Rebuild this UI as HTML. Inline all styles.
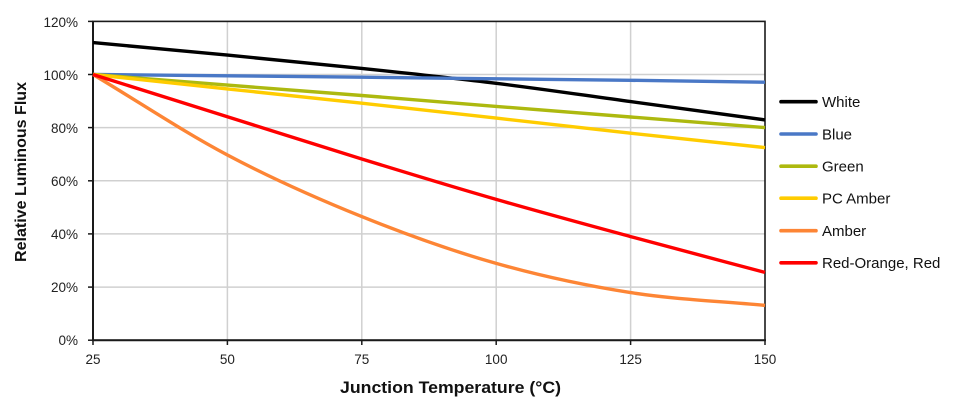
<!DOCTYPE html>
<html>
<head>
<meta charset="utf-8">
<style>
  html, body { margin: 0; padding: 0; background: #ffffff; }
  body { width: 960px; height: 410px; overflow: hidden; }
  svg { display: block; font-family: "Liberation Sans", Arial, sans-serif; }
</style>
</head>
<body>
<svg width="960" height="410" viewBox="0 0 960 410" xmlns="http://www.w3.org/2000/svg">
  <rect x="0" y="0" width="960" height="410" fill="#ffffff"/>

  <!-- gridlines -->
  <g stroke="#d0d0d0" stroke-width="1.5" fill="none">
    <line x1="93" y1="74.5" x2="765" y2="74.5"/>
    <line x1="93" y1="127.6" x2="765" y2="127.6"/>
    <line x1="93" y1="180.8" x2="765" y2="180.8"/>
    <line x1="93" y1="233.9" x2="765" y2="233.9"/>
    <line x1="93" y1="287.1" x2="765" y2="287.1"/>
    <line x1="227.4" y1="21.4" x2="227.4" y2="340.2"/>
    <line x1="361.8" y1="21.4" x2="361.8" y2="340.2"/>
    <line x1="496.2" y1="21.4" x2="496.2" y2="340.2"/>
    <line x1="630.6" y1="21.4" x2="630.6" y2="340.2"/>
  </g>

  <!-- plot border -->
  <rect x="93" y="21.4" width="672" height="318.8" fill="none" stroke="#1a1a1a" stroke-width="1.6"/>
  <line x1="93" y1="21" x2="93" y2="341" stroke="#1a1a1a" stroke-width="2"/>
  <line x1="92" y1="340.2" x2="766" y2="340.2" stroke="#1a1a1a" stroke-width="2"/>

  <!-- ticks -->
  <g stroke="#1a1a1a" stroke-width="1.5">
    <line x1="88" y1="21.4" x2="93" y2="21.4"/>
    <line x1="88" y1="74.5" x2="93" y2="74.5"/>
    <line x1="88" y1="127.6" x2="93" y2="127.6"/>
    <line x1="88" y1="180.8" x2="93" y2="180.8"/>
    <line x1="88" y1="233.9" x2="93" y2="233.9"/>
    <line x1="88" y1="287.1" x2="93" y2="287.1"/>
    <line x1="88" y1="340.2" x2="93" y2="340.2"/>
    <line x1="93" y1="340" x2="93" y2="345"/>
    <line x1="227.4" y1="340" x2="227.4" y2="345"/>
    <line x1="361.8" y1="340" x2="361.8" y2="345"/>
    <line x1="496.2" y1="340" x2="496.2" y2="345"/>
    <line x1="630.6" y1="340" x2="630.6" y2="345"/>
    <line x1="765" y1="340" x2="765" y2="345"/>
  </g>

  <!-- y tick labels -->
  <g font-size="13.5" fill="#222" text-anchor="end">
    <text x="78" y="27">120%</text>
    <text x="78" y="80">100%</text>
    <text x="78" y="133">80%</text>
    <text x="78" y="186">60%</text>
    <text x="78" y="239">40%</text>
    <text x="78" y="292">20%</text>
    <text x="78" y="345">0%</text>
  </g>

  <!-- x tick labels -->
  <g font-size="13.5" fill="#222" text-anchor="middle">
    <text x="93" y="364">25</text>
    <text x="227.4" y="364">50</text>
    <text x="361.8" y="364">75</text>
    <text x="496.2" y="364">100</text>
    <text x="630.6" y="364">125</text>
    <text x="765" y="364">150</text>
  </g>

  <!-- axis titles -->
  <text x="450.5" y="393" font-size="17" font-weight="bold" fill="#111" text-anchor="middle" textLength="221" lengthAdjust="spacingAndGlyphs">Junction Temperature (°C)</text>
  <text transform="translate(26,172) rotate(-90)" x="0" y="0" font-size="16" font-weight="bold" fill="#111" text-anchor="middle" textLength="180" lengthAdjust="spacingAndGlyphs">Relative Luminous Flux</text>

  <!-- series -->
  <g fill="none" stroke-width="3.4" stroke-linejoin="round" stroke-linecap="butt">
    <!-- White -->
    <path stroke="#000000" d="M93,42.6 C138,46.8 182.6,50.8 227.4,55.1 C272.2,59.4 317,63.7 361.8,68.4 C406.6,73.1 451.4,77.8 496.2,83.3 C541,88.8 585.8,95.5 630.6,101.6 C675.4,107.7 720.2,113.8 765,119.9"/>
    <!-- Blue -->
    <polyline stroke="#4a78c6" points="93,74.5 227.4,75.8 361.8,77.2 496.2,78.8 630.6,80.3 765,82.2"/>
    <!-- Green -->
    <polyline stroke="#adb90f" points="93,74.5 227.4,85.1 361.8,95.5 496.2,106.4 630.6,117.0 765,127.6"/>
    <!-- PC Amber -->
    <polyline stroke="#ffcc00" points="93,74.5 227.4,88.9 361.8,103.2 496.2,118.1 630.6,133.2 765,147.6"/>
    <!-- Amber -->
    <path stroke="#fd8535" d="M93,74.5 C138,101.3 182.6,131.3 227.4,155 C272.2,178.7 317,198.5 361.8,216.6 C406.6,234.7 451.4,250.7 496.2,263.4 C541,276.1 585.8,285.6 630.6,292.6 C675.4,299.6 720.2,301.1 765,305.4"/>
    <!-- Red -->
    <path stroke="#ff0000" d="M93,74.5 C138,88.6 182.6,102.6 227.4,116.7 C272.2,130.8 317,145.2 361.8,159 C406.6,172.8 451.4,186.5 496.2,199.4 C541,212.3 585.8,224.4 630.6,236.6 C675.4,248.8 720.2,260.5 765,272.4"/>
  </g>

  <!-- legend -->
  <g stroke-width="3.6" stroke-linecap="round">
    <line x1="781" y1="101.7" x2="816" y2="101.7" stroke="#000000"/>
    <line x1="781" y1="134" x2="816" y2="134" stroke="#4a78c6"/>
    <line x1="781" y1="166.2" x2="816" y2="166.2" stroke="#adb90f"/>
    <line x1="781" y1="198.2" x2="816" y2="198.2" stroke="#ffcc00"/>
    <line x1="781" y1="230.7" x2="816" y2="230.7" stroke="#fd8535"/>
    <line x1="781" y1="262.8" x2="816" y2="262.8" stroke="#ff0000"/>
  </g>
  <g font-size="15" fill="#111">
    <text x="822" y="107">White</text>
    <text x="822" y="139.3">Blue</text>
    <text x="822" y="171.5">Green</text>
    <text x="822" y="203.5">PC Amber</text>
    <text x="822" y="236">Amber</text>
    <text x="822" y="268">Red-Orange, Red</text>
  </g>
</svg>
</body>
</html>
